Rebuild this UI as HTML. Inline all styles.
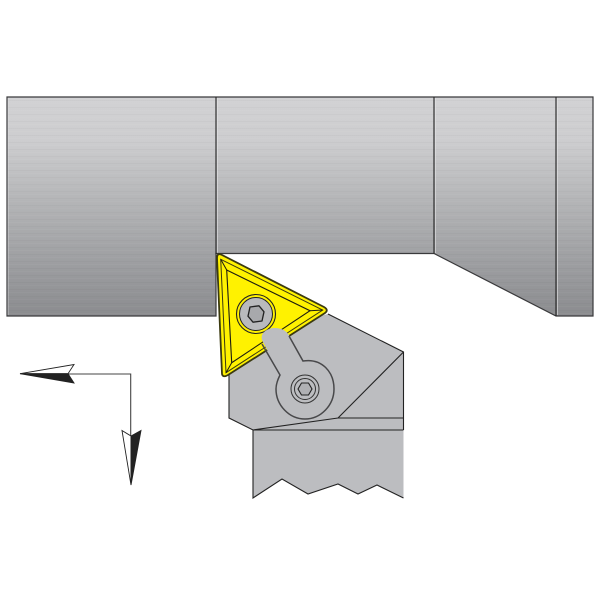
<!DOCTYPE html>
<html>
<head>
<meta charset="utf-8">
<style>
html,body{margin:0;padding:0;background:#fff;width:600px;height:600px;overflow:hidden}
svg{display:block}
</style>
</head>
<body>
<svg width="600" height="600" viewBox="0 0 600 600" xmlns="http://www.w3.org/2000/svg">
<defs>
<linearGradient id="g" gradientUnits="userSpaceOnUse" x1="0" y1="97" x2="0" y2="316">
<stop offset="0" stop-color="#d2d2d4"/>
<stop offset="0.2" stop-color="#cdcdcf"/>
<stop offset="0.5" stop-color="#b2b3b5"/>
<stop offset="0.8" stop-color="#9a9b9e"/>
<stop offset="1" stop-color="#8b8c8f"/>
</linearGradient>
<pattern id="st" patternUnits="userSpaceOnUse" width="10" height="7">
<rect y="2" width="10" height="1" fill="#000" opacity=".025"/>
<rect y="5" width="10" height="1" fill="#fff" opacity=".03"/>
</pattern>
</defs>

<!-- body -->
<path d="M7 97H593V316H556L434 253.500H216V316H7Z" fill="url(#g)"/>
<path d="M7 97H593V316H556L434 253.500H216V316H7Z" fill="url(#st)"/>
<path d="M8 98V315M217.500 98V253M435.500 98V253M557.500 98V315" stroke="#e4e4e6" stroke-width="1" opacity=".6" fill="none"/>
<path d="M7 97H593V316H556L434 253.500H216V316H7Z" fill="none" stroke="#3a3a3c" stroke-width="1.200"/>
<path d="M216 97V254M434 97V253.500M556 97V316" stroke="#222" stroke-width="1.100" fill="none"/>

<!-- holder -->
<path d="M229 373V418L253 430H403.500V352L328 314 262 330Z" fill="#bcbdc0"/>
<path d="M253 430V498L282 479 308 494 338 484 358 494 377 485 403.500 498V430Z" fill="#bcbdc0"/>
<path d="M328 314L403.500 352V430M229 373V418L253 430H403.500M253 430V498L282 479 308 494 338 484 358 494 377 485 403.500 498" fill="none" stroke="#222" stroke-width="1.100"/>
<path d="M403.500 352L338 418M338 418H403.500M253 430L338 418" fill="none" stroke="#222" stroke-width="1.100"/>

<!-- insert -->
<path d="M221 254.500L324 307Q329 310 325 313L228 375Q223 378 222 374L217 258Q217 253 221 254.500Z" fill="#fff200" stroke="#3b3a10" stroke-width="1.800" stroke-linejoin="round"/>
<path d="M220.700 259.300L322.700 310 226 372.700Z" fill="none" stroke="#3a3810" stroke-width="1"/>
<path d="M226.700 270L310 310.700 231.700 362.700Z" fill="none" stroke="#1c1c10" stroke-width="1.100"/>
<path d="M220.700 259.300L226.700 270M322.700 310L310 310.700M226 372.700L231.700 362.700" stroke="#1c1c10" stroke-width="1" fill="none"/>

<!-- screw in insert -->
<circle cx="256" cy="314" r="19.500" fill="#fff200" stroke="#222" stroke-width="1.100"/>
<circle cx="256" cy="314" r="16.500" fill="#b9babd" stroke="#222" stroke-width="1"/>
<polygon points="264,311.800 262,321 253,322.200 248,316.200 250,307 259,305.800" fill="#a8a9ac" stroke="#222" stroke-width="1.300" stroke-linejoin="round"/>

<!-- clamp -->
<path d="M262 340C260 333 267 328 275 328C282 328 287 331 290 337L303 361C322 358 334 372 334 389C334 405 321 419 305 419C289 419 276 405 276 389C276 384 278 379 280 375Z" fill="#bcbdc0"/>
<path d="M262 344L280 375C278 379 276 384 276 389C276 405 289 419 305 419C321 419 334 405 334 389C334 372 322 358 303 361L289 336" fill="none" stroke="#48484a" stroke-width="1.500"/>
<circle cx="305" cy="389" r="14" fill="#bcbdc0" stroke="#333" stroke-width="1"/>
<circle cx="305" cy="389" r="10.500" fill="#bcbdc0" stroke="#333" stroke-width="1"/>
<polygon points="312,389 308.500,395 301.500,395 298,389 301.500,383 308.500,383" fill="#b0b1b4" stroke="#222" stroke-width="1.100" stroke-linejoin="round"/>

<!-- axes arrows -->
<path d="M68 374H130.700V436" fill="none" stroke="#444" stroke-width="1.100"/>
<polygon points="20,373.700 74,364.500 68,373.700" fill="#fff" stroke="#222" stroke-width=".9"/>
<polygon points="20,373.700 68,373.700 74,383" fill="#222" stroke="#222" stroke-width=".9"/>
<polygon points="131,485 122,430.500 131,436" fill="#fff" stroke="#222" stroke-width=".9"/>
<polygon points="131,485 131,436 141,430.500" fill="#222" stroke="#222" stroke-width=".9"/>
</svg>
</body>
</html>
